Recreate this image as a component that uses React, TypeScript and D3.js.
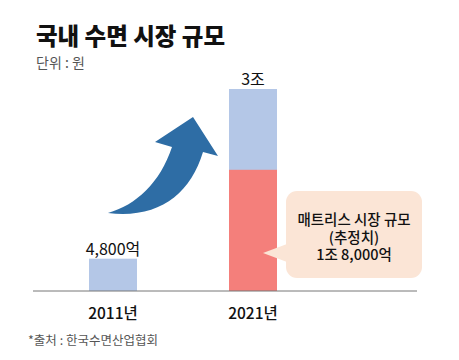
import React from "react";
import * as d3 from "d3";

const categories = ["2011년", "2021년"];
const totals = [4800, 30000]; // 억원
const mattress = [0, 18000]; // 억원 (추정치)
const totalLabels = ["4,800억", "3조"];
const calloutLines = ["매트리스 시장 규모", "(추정치)", "1조 8,000억"];
const title = "국내 수면 시장 규모";
const unitText = "단위 : 원";
const sourceText = "*출처 : 한국수면산업협회";

const W = 459;
const H = 360;
const FONT = "'Noto Sans CJK KR', 'Noto Sans', sans-serif";

export default function App() {
  const x = d3.scalePoint<string>().domain(categories).range([113, 253]);
  const y = d3.scaleLinear().domain([0, 30000]).range([291, 89]);
  const bw = 48;

  // arrow anchored between the two bars
  const ax = (x(categories[0]) as number) - 5;
  const ay = y(0) - 78;
  const arrowPath = d3.path();
  arrowPath.moveTo(ax, ay);
  arrowPath.bezierCurveTo(ax + 28, ay - 8, ax + 52, ay - 30, ax + 64, ay - 66);
  arrowPath.lineTo(ax + 47, ay - 71);
  arrowPath.lineTo(ax + 85, ay - 96);
  arrowPath.lineTo(ax + 110, ay - 57);
  arrowPath.lineTo(ax + 95, ay - 61);
  arrowPath.bezierCurveTo(ax + 82, ay - 18, ax + 50, ay + 6, ax, ay);
  arrowPath.closePath();

  const x2 = x(categories[1]) as number;
  const bx = x2 + bw / 2 + 9;
  const by = 191;
  const bW = 136;
  const bH = 87;
  const tipY = 253;

  return (
    <svg
      width={W}
      height={H}
      style={{ position: "absolute", left: 0, top: 0, background: "#fff" }}
      fontFamily={FONT}
    >
      <text x={36} y={45} fontSize={23.5} fontWeight={800} fill="#111">
        {title}
      </text>
      <text x={36} y={68} fontSize={14} fill="#555">
        {unitText}
      </text>

      {categories.map((c, i) => (
        <g key={c}>
          <rect
            x={(x(c) as number) - bw / 2}
            y={y(totals[i])}
            width={bw}
            height={y(0) - y(totals[i])}
            fill="#B4C7E7"
          />
          {mattress[i] > 0 && (
            <rect
              x={(x(c) as number) - bw / 2}
              y={y(mattress[i])}
              width={bw}
              height={y(0) - y(mattress[i])}
              fill="#F47F7B"
            />
          )}
          <text
            x={x(c) as number}
            y={y(totals[i]) - 4}
            textAnchor="middle"
            fontSize={16}
            fill="#111"
          >
            {totalLabels[i]}
          </text>
          <text
            x={x(c) as number}
            y={319}
            textAnchor="middle"
            fontSize={15.5}
            fontWeight={500}
            fill="#111"
          >
            {c}
          </text>
        </g>
      ))}

      <line x1={33} x2={417} y1={y(0)} y2={y(0)} stroke="#777" strokeWidth={1} />

      <path d={arrowPath.toString()} fill="#2E6DA5" />

      <rect x={bx} y={by} width={bW} height={bH} rx={11} fill="#FBE5D6" />
      <path
        d={`M${bx + 1},${tipY - 9} L${x2 + 10},${tipY} L${bx + 1},${tipY + 9} Z`}
        fill="#FBE5D6"
      />
      {calloutLines.map((t, i) => (
        <text
          key={t}
          x={bx + bW / 2}
          y={225 + i * 17.5}
          textAnchor="middle"
          fontSize={14.5}
          fontWeight={500}
          fill="#111"
        >
          {t}
        </text>
      ))}

      <text x={28} y={345} fontSize={12.5} fill="#555">
        {sourceText}
      </text>
    </svg>
  );
}
